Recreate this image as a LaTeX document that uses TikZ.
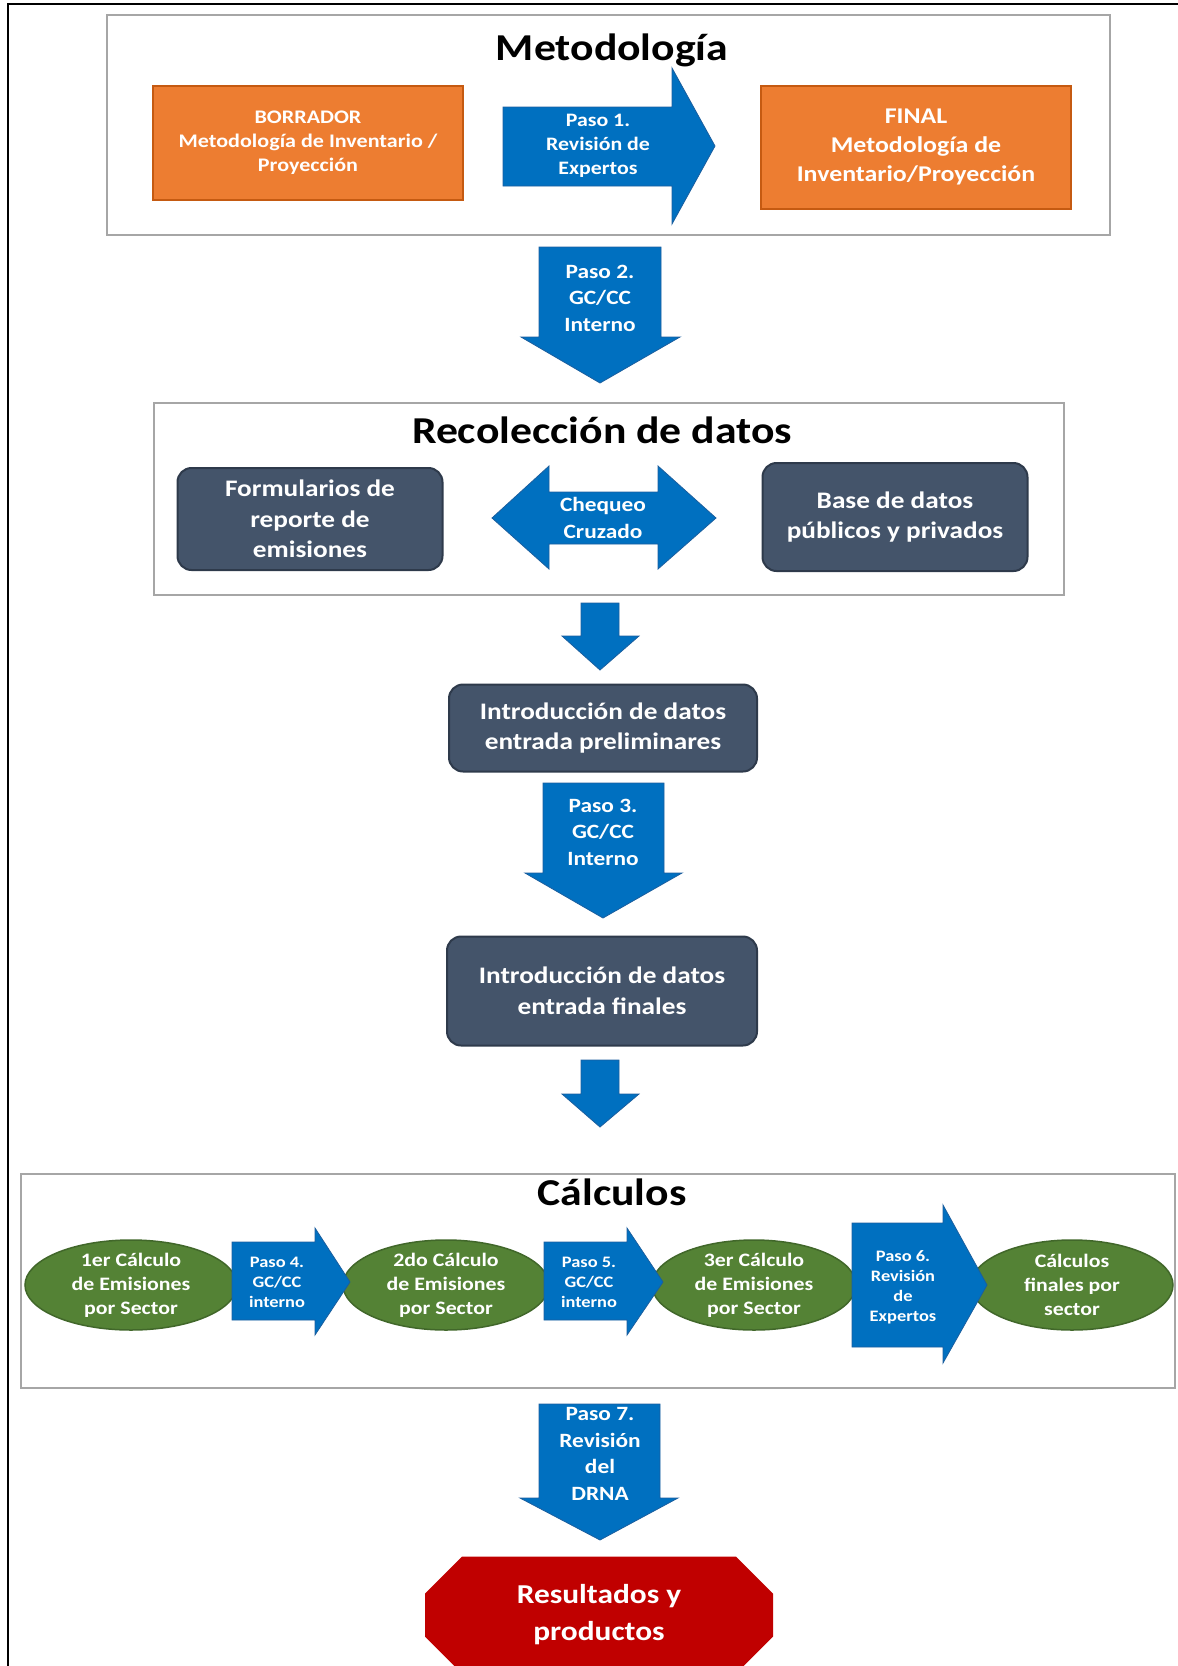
\documentclass[tikz,border=0pt]{standalone}
\usepackage{fontspec}
\setmainfont{Carlito}[FakeStretch=1.15]
\usetikzlibrary{shapes.geometric,shapes.misc}
\definecolor{draftorange}{HTML}{ED7D31}
\definecolor{draftline}{HTML}{C55A11}
\definecolor{stepblue}{HTML}{0070C0}
\definecolor{stepline}{HTML}{1B5E9E}
\definecolor{datacolour}{HTML}{44546A}
\definecolor{dataline}{HTML}{2E3A4B}
\definecolor{calccolour}{HTML}{548235}
\definecolor{calcline}{HTML}{41672A}
\definecolor{resultcolour}{HTML}{C00000}
\definecolor{framegray}{HTML}{A6A6A6}

\begin{document}
\begin{tikzpicture}[
  x=1pt, y=-1pt,
  stage/.style = {draw=framegray, line width=2.5pt},
  stage_title/.style = {anchor=base, font=\fontsize{38}{44}\selectfont\bfseries},
  draft_box/.style = {rectangle, fill=draftorange, draw=draftline, line width=2pt, text=white, align=center, inner sep=0pt},
  data_box/.style = {rectangle, rounded corners=14pt, fill=datacolour, draw=dataline, line width=2pt, text=white, align=center, inner sep=0pt, font=\fontsize{23.7}{30.5}\selectfont\bfseries},
  calc_node/.style = {ellipse, fill=calccolour, draw=calcline, line width=1.5pt, inner sep=0pt, minimum height=90pt},
  calc_lab/.style = {text=white, align=center, font=\fontsize{19}{24}\selectfont\bfseries},
  flow/.style = {fill=stepblue, draw=stepline, line width=0.8pt},
  flow_lab/.style = {text=white, align=center, inner sep=0pt, font=\fontsize{20.3}{26.5}\selectfont\bfseries},
  small_flow_lab/.style = {flow_lab, font=\fontsize{16}{20}\selectfont\bfseries}
  ]
  \useasboundingbox (0,0) rectangle (1178,1666);
  \draw[line width=1.5pt] (8,1700) -- (8,4) -- (1200,4);

  % Metodologia
  \draw[stage] (107,15) rectangle (1110,235);
  \node[stage_title] (metodologia) at (612,60) {Metodología};
  \node[draft_box, minimum width=310pt, minimum height=114pt, font=\fontsize{19.2}{24}\selectfont\bfseries] (borrador) at (308,143) {BORRADOR\\Metodología de Inventario /\\Proyección};
  \node[draft_box, minimum width=310pt, minimum height=123pt, font=\fontsize{22.5}{28.7}\selectfont\bfseries] (final) at (916,147) {FINAL\\Metodología de\\Inventario/Proyección};
  \fill[flow] (503,107) -- (672,107) -- (672,68) -- (715,146) -- (672,224) -- (672,186) -- (503,186) -- cycle;
  \node[flow_lab, font=\fontsize{19}{24}\selectfont\bfseries] (paso1) at (598,146) {Paso 1.\\Revisión de\\Expertos};

  \fill[flow] (539,247) -- (661,247) -- (661,337) -- (680,337) -- (600,383) -- (521,337) -- (539,337) -- cycle;
  \node[flow_lab] (paso2) at (600,298) {Paso 2.\\GC/CC\\Interno};

  % Recoleccion de datos
  \draw[stage] (154,403) rectangle (1064,595);
  \node[stage_title] (recoleccion) at (602,443) {Recolección de datos};
  \node[data_box, minimum width=265pt, minimum height=102pt] (formularios) at (310,519) {Formularios de\\reporte de\\emisiones};
  \node[data_box, minimum width=265pt, minimum height=108pt] (base) at (895,517) {Base de datos\\públicos y privados};
  \fill[flow] (492,518) -- (549,466) -- (549,492) -- (658,492) -- (658,466) -- (716,518) -- (658,569) -- (658,544) -- (549,544) -- (549,569) -- cycle;
  \node[flow_lab] (chequeo) at (603,518) {Chequeo\\Cruzado};

  \fill[flow] (581,603) -- (619,603) -- (619,636) -- (639,636) -- (600,670) -- (562,636) -- (581,636) -- cycle;

  % Introduccion de datos
  \node[data_box, minimum width=308pt, minimum height=87pt] (preliminares) at (603,728) {Introducción de datos\\entrada preliminares};
  \fill[flow] (543,783) -- (664,783) -- (664,873) -- (682,873) -- (603,918) -- (525,873) -- (543,873) -- cycle;
  \node[flow_lab] (paso3) at (603,832) {Paso 3.\\GC/CC\\Interno};
  \node[data_box, minimum width=310pt, minimum height=109pt] (finales) at (602,991) {Introducción de datos\\entrada finales};
  \fill[flow] (581,1060) -- (619,1060) -- (619,1094) -- (639,1094) -- (600,1127) -- (562,1094) -- (581,1094) -- cycle;

  % Calculos
  \draw[stage] (21,1174) rectangle (1175,1388);
  \node[stage_title] (calculos) at (612,1205) {Cálculos};
  \node[calc_node, minimum width=212pt, label={[calc_lab]center:{1er Cálculo\\de Emisiones\\por Sector}}] (calc1) at (131,1285) {};
  \node[calc_node, minimum width=206pt, label={[calc_lab]center:{2do Cálculo\\de Emisiones\\por Sector}}] (calc2) at (446,1285) {};
  \node[calc_node, minimum width=204pt, label={[calc_lab]center:{3er Cálculo\\de Emisiones\\por Sector}}] (calc3) at (754,1285) {};
  \node[calc_node, minimum width=202pt, label={[calc_lab]center:{Cálculos\\finales por\\sector}}] (calc4) at (1072,1285) {};
  \fill[flow] (232,1242) -- (315,1242) -- (315,1228) -- (350,1282) -- (315,1335) -- (315,1320) -- (232,1320) -- cycle;
  \node[small_flow_lab] (paso4) at (277,1282) {Paso 4.\\GC/CC\\interno};
  \fill[flow] (544,1242) -- (627,1242) -- (627,1228) -- (663,1282) -- (627,1335) -- (627,1320) -- (544,1320) -- cycle;
  \node[small_flow_lab] (paso5) at (589,1282) {Paso 5.\\GC/CC\\interno};
  \fill[flow] (852,1223) -- (943,1223) -- (943,1205) -- (987,1285) -- (943,1363) -- (943,1347) -- (852,1347) -- cycle;
  \node[small_flow_lab] (paso6) at (903,1287) {Paso 6.\\Revisión\\de\\Expertos};

  \fill[flow] (539,1404) -- (660,1404) -- (660,1498) -- (678,1498) -- (600,1540) -- (520,1498) -- (539,1498) -- cycle;
  \node[flow_lab] (paso7) at (600,1454) {Paso 7.\\Revisión\\del\\DRNA};

  % Resultados
  \node[chamfered rectangle, chamfered rectangle xsep=19pt, chamfered rectangle ysep=18pt, fill=resultcolour, inner sep=0pt, minimum width=348pt, minimum height=117pt, text=white, align=center, font=\fontsize{27.3}{37}\selectfont\bfseries] (resultados) at (599,1615) {Resultados y\\productos};
\end{tikzpicture}
\end{document}
